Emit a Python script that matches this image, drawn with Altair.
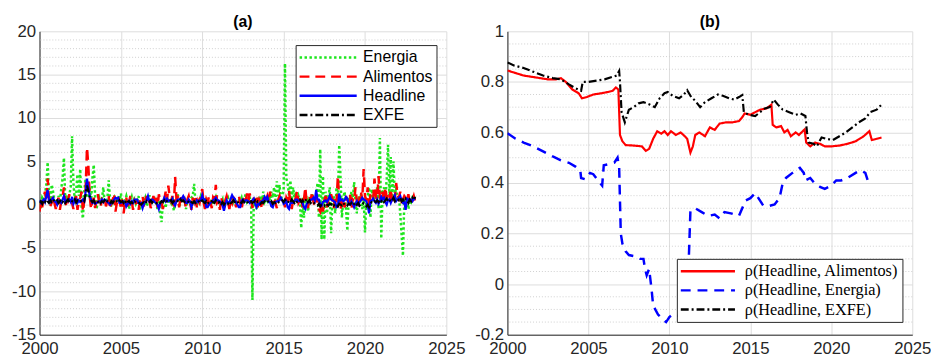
import altair as alt
import pandas as pd

# ---------------- Panel (a): monthly rates, Jan 2000 .. Feb 2023 ----------------
energia = [
    0.3, -0.4, 0.8, 0.5, 1.2, 2.3, 4.9, 1.0, 0.2, 2.3, 1.5, 0.4,      # 2000
    0.5, 0.3, 1.0, 0.2, 1.8, 3.0, 5.4, 0.5, 0.8, 0.3, 1.2, 2.0,       # 2001
    7.9, 2.5, 0.5, 1.5, 3.5, 1.0, 4.1, -0.5, -1.6, 1.5, 3.0, 0.8,     # 2002
    1.0, 2.0, 0.5, 3.0, 4.6, 1.0, -0.5, 0.3, 0.8, 0.2, 0.5, 2.0,      # 2003
    0.3, 0.5, 0.6, 2.8, 0.6, -0.2, 0.4, 0.8, 0.2, 0.5, 1.0, 0.3,      # 2004
    1.3, 0.2, -0.3, 0.5, 1.0, 0.3, -0.5, 0.4, 0.9, 0.2, 0.6, 0.1,     # 2005
    0.5, 1.0, -0.6, 0.3, 0.2, 0.4, 0.8, -0.2, 0.3, 1.1, 0.2, 0.5,     # 2006
    0.3, 0.6, 0.1, -0.5, 0.4, -1.0, -2.0, 0.3, 0.6, -0.4, 0.8, 0.2,   # 2007
    0.5, 0.2, 1.0, -0.7, 0.3, 0.6, 1.2, -0.3, 0.4, 0.8, 0.2, 0.5,     # 2008
    -0.5, 0.3, 0.2, 0.5, 0.8, 1.0, 2.4, 0.3, -0.2, 0.5, 0.4, 1.0,     # 2009
    0.6, 0.2, 0.8, -0.3, 0.4, 0.5, 0.3, 0.6, 0.1, 0.5, 0.9, 0.3,      # 2010
    0.5, 0.4, 0.2, 0.6, -0.4, 0.3, 0.5, 0.8, 0.2, 0.4, 1.0, 0.3,      # 2011
    0.6, 0.3, 0.2, 0.5, 0.4, 0.8, 0.1, 0.7, 1.2, 0.3, 0.5, 0.8,       # 2012
    0.5, -11.0, 0.5, 0.2, -0.5, 0.8, 0.3, 1.0, 0.5, 1.5, 0.3, 0.6,    # 2013
    0.4, 1.0, 0.5, 1.5, 0.8, 2.0, 0.5, 2.7, 1.0, 2.3, 0.5, 1.2,       # 2014
    1.5, 16.3, 3.0, 2.5, 1.0, 2.8, 0.5, 2.0, 0.8, 1.5, 0.3, 1.0,      # 2015
    0.5, -2.7, 0.8, -1.5, 0.5, 1.0, -0.8, 0.6, 0.4, 1.2, 0.3, 0.8,    # 2016
    1.0, 2.5, -1.5, 6.4, -4.0, 3.3, -4.0, 1.5, -1.0, 0.8, 2.0, -3.3,  # 2017
    0.5, 1.0, -1.0, 2.0, 0.5, 6.9, 3.0, -1.5, 0.8, 1.5, -0.5, -3.0,   # 2018
    0.8, 0.3, 1.5, 0.5, 2.6, 0.3, -1.0, 1.0, 0.5, 1.2, -0.5, 0.8,     # 2019
    -3.2, 0.5, 1.0, 2.0, -1.5, 1.8, 0.5, 1.0, 0.8, 2.0, -0.5, 7.7,    # 2020
    -3.9, 1.5, 2.0, 0.5, 3.0, 6.9, 1.0, 5.5, 0.5, 5.0, 1.0, 2.0,      # 2021
    0.5, 1.0, -1.0, -3.5, -5.9, 0.5, 0.2, 0.8, -0.5, 0.5, 0.3, 0.8,   # 2022
    0.5, 1.2,                                                          # 2023
]

alimentos = [
    -0.8, 0.5, -0.3, 0.8, 1.5, 0.4, 3.0, 0.6, -0.2, 0.3, 1.0, 0.2,    # 2000
    -0.5, 0.3, 0.8, -0.6, 0.4, 1.0, 2.0, 0.3, -0.3, 0.5, 1.2, 0.6,    # 2001
    0.2, -0.5, 0.4, 1.0, -0.6, 0.3, 0.8, 1.5, -0.8, 0.5, 1.8, 6.6,    # 2002
    4.5, 1.0, -0.5, 0.3, 0.8, -0.4, 0.5, 1.2, 0.2, -0.3, 0.6, 0.4,    # 2003
    0.8, -0.2, 0.5, 1.0, -0.5, 0.3, 0.6, 1.3, -0.8, 0.2, 0.9, 0.4,    # 2004
    -0.3, 0.6, -1.0, 0.2, 0.8, -0.5, 0.3, 1.0, 0.4, -0.6, 0.5, 0.2,   # 2005
    0.4, -0.6, 0.3, 0.8, 1.0, -0.2, 0.5, 1.0, 0.2, 0.6, -0.4, 0.3,    # 2006
    1.0, 0.3, 0.8, -0.3, 1.2, 0.5, 0.3, -0.5, 0.6, 1.5, 0.4, 2.2,     # 2007
    0.8, 0.4, 1.0, -0.2, 3.2, 0.6, 0.8, -0.3, 1.0, 0.3, 1.2, 0.5,     # 2008
    -0.4, 0.6, 1.0, 0.2, -0.6, 0.8, 0.3, 1.0, -0.3, 0.5, 0.2, 1.2,    # 2009
    1.8, 0.3, -0.5, 0.6, 0.2, 1.0, 0.4, -0.4, 0.8, 0.5, 2.3, 0.2,     # 2010
    0.4, -0.6, 0.8, 0.2, -0.4, 0.5, 1.0, 0.3, -0.5, 0.6, 0.2, 0.9,    # 2011
    0.3, -0.3, 0.6, 1.0, 0.2, -0.6, 0.5, 0.8, 0.3, 1.3, 0.4, 1.3,     # 2012
    0.5, -0.4, 0.8, 0.2, 1.0, -0.3, 0.6, 0.3, -0.5, 0.8, 0.2, 0.5,    # 2013
    1.0, 0.3, 1.5, -0.2, 0.5, 0.8, 0.2, -0.4, 0.6, 1.0, 0.3, 0.5,     # 2014
    0.6, -0.3, 0.8, 0.4, 1.6, 0.2, -0.5, 0.6, 0.3, 0.9, 1.6, 0.2,     # 2015
    0.5, 0.9, -0.3, 0.6, 2.0, 0.2, -0.4, 1.0, 0.5, 1.5, 0.3, -0.2,    # 2016
    0.8, 0.4, -0.5, -0.8, 0.2, -0.8, 0.5, 1.0, -0.3, 0.6, 0.4, 1.2,   # 2017
    0.6, -0.4, 0.9, 0.3, 3.3, 0.5, -0.6, 0.8, 0.2, -0.3, 1.0, 0.5,    # 2018
    0.3, 1.2, -0.5, 0.6, 0.4, 2.0, 0.3, -0.4, 0.8, 1.5, 0.5, 4.1,     # 2019
    1.0, 0.5, 2.0, -0.5, 1.2, 0.8, 0.6, 3.0, 1.0, 0.6, 3.3, 0.8,      # 2020
    0.6, 1.5, 0.3, 2.0, 0.8, 1.2, 0.5, 1.8, 0.4, 1.0, 0.6, 2.5,       # 2021
    1.2, 0.8, 1.5, 0.4, 0.6, 1.0, 0.8, 0.5, 1.2, 0.3, 0.6, 0.5,       # 2022
    1.0, 0.4,                                                          # 2023
]

headline = [
    0.5, 0.2, 0.4, 0.6, 0.3, 1.0, 1.7, 0.5, 0.3, 0.6, 0.8, 0.4,       # 2000
    0.3, 0.0, 0.5, 0.4, 0.2, 0.6, 1.0, 0.3, 0.5, 0.4, 0.6, 0.3,       # 2001
    0.9, 0.1, 0.4, 0.6, 0.2, 0.5, 0.3, 0.4, 0.6, 0.4, 1.5, 3.0,       # 2002
    2.0, 1.0, 0.6, 0.2, 0.3, 0.1, 0.2, 0.3, 0.4, 0.4, 0.6, 0.3,       # 2003
    0.6, 0.5, 0.3, 0.2, 0.0, 0.2, 0.3, 0.6, 0.8, 0.7, 0.8, 0.2,       # 2004
    0.2, 0.3, 0.4, 0.3, -0.2, 0.1, 0.4, 0.1, 0.4, 0.2, 0.6, 0.6,      # 2005
    0.6, 0.2, 0.1, 0.2, -0.4, 0.1, 0.3, 0.5, 1.0, 0.4, 0.5, 0.6,      # 2006
    0.5, 0.3, 0.2, 0.0, -0.5, 0.1, 0.4, 0.4, 0.8, 0.4, 0.7, 0.4,      # 2007
    0.5, 0.4, 0.7, 0.2, -0.1, 0.4, 0.6, 0.6, 0.7, 0.7, 1.0, 0.7,      # 2008
    0.2, 0.2, 0.6, 0.4, -0.3, 0.2, 0.3, 0.2, 0.5, 0.3, 0.5, 0.5,      # 2009
    1.1, 0.6, 0.6, -0.3, -0.3, 0.0, 0.2, 0.3, 0.5, 0.6, 0.8, 0.5,     # 2010
    0.5, 0.4, 0.2, -0.1, -0.7, 0.0, 0.5, 0.2, 0.3, 0.7, 1.1, 0.8,     # 2011
    0.7, 0.2, 0.0, -0.3, -0.3, 0.5, 0.6, 0.3, 0.5, 0.5, 0.4, 0.2,     # 2012
    0.4, 0.5, 0.7, 0.1, -0.3, 0.1, 0.0, 0.3, 0.4, 0.5, 0.9, 0.6,      # 2013
    0.9, 0.3, 0.3, -0.2, -0.3, 0.2, 0.3, 0.4, 0.4, 0.5, 0.8, 0.5,     # 2014
    0.1, 0.2, 0.4, -0.3, -0.5, 0.2, 0.2, 0.2, 0.4, 0.6, 0.6, 0.4,     # 2015
    0.4, 0.4, 0.2, -0.3, -0.5, 0.1, 0.3, 0.3, 0.6, 0.6, 0.8, 0.5,     # 2016
    1.7, 0.6, 0.6, 0.1, -0.1, 0.3, 0.4, 0.5, 0.3, 0.6, 1.0, 0.6,      # 2017
    0.5, 0.4, 0.3, -0.3, -0.2, 1.3, 0.5, 0.6, 0.4, 0.5, 0.9, 0.7,     # 2018
    0.1, 0.0, 0.4, 0.1, -0.3, 0.1, 0.4, 0.0, 0.3, 0.5, 0.8, 0.6,      # 2019
    0.5, 0.4, -0.1, -1.0, 0.4, 0.5, 0.7, 0.4, 0.2, 0.6, 0.1, 0.4,     # 2020
    0.9, 0.6, 0.8, 0.3, 0.0, 0.5, 0.6, 0.2, 0.6, 0.8, 1.1, 0.4,       # 2021
    0.6, 0.8, 1.0, 0.5, 0.2, 0.3, -0.6, 0.7, 0.6, 0.5, 0.6, 0.4,      # 2022
    0.7, 0.6,                                                          # 2023
]

exfe = [
    0.2, 0.4, 0.1, 0.5, 0.3, 0.6, 0.4, 0.2, 0.5, 0.3, 0.6, 0.4,       # 2000
    0.3, 0.5, 0.2, 0.4, 0.6, 0.3, 0.5, 0.2, 0.4, 0.6, 0.3, 0.5,       # 2001
    0.4, 0.3, 0.6, 0.2, 0.5, 0.4, 0.3, 0.5, 0.6, 0.4, 1.2, 2.2,       # 2002
    1.6, 0.9, 0.5, 0.3, 0.5, 0.2, 0.4, 0.3, 0.5, 0.2, 0.4, 0.3,       # 2003
    0.5, 0.2, 0.4, 0.3, 0.1, 0.4, 0.2, 0.5, 0.3, 0.4, 0.2, 0.5,       # 2004
    0.3, 0.4, 0.2, 0.5, 0.1, 0.3, 0.4, 0.2, 0.3, 0.1, 0.4, 0.3,       # 2005
    0.2, 0.3, 0.1, 0.0, 0.2, 0.3, 0.1, 0.4, 0.2, 0.3, 0.5, 0.2,       # 2006
    0.4, 0.3, 0.2, 0.1, 0.3, 0.2, 0.4, 0.3, 0.5, 0.2, 0.4, 0.3,       # 2007
    0.3, 0.5, 0.2, 0.4, 0.3, 0.5, 0.4, 0.3, 0.6, 0.4, 0.5, 0.3,       # 2008
    0.2, 0.4, 0.3, 0.1, 0.3, 0.2, 0.4, 0.2, 0.3, 0.5, 0.2, 0.4,       # 2009
    0.5, 0.3, 0.2, 0.4, 0.1, 0.3, 0.2, 0.4, 0.3, 0.2, 0.5, 0.3,       # 2010
    0.2, 0.4, 0.1, 0.3, 0.0, 0.2, 0.3, 0.1, 0.4, 0.2, 0.3, 0.5,       # 2011
    0.3, 0.2, 0.4, 0.1, 0.3, 0.2, 0.5, 0.3, 0.2, 0.4, 0.1, 0.3,       # 2012
    0.4, 0.2, 0.3, 0.5, 0.2, 0.4, 0.3, 0.1, 0.3, 0.2, 0.4, 0.3,       # 2013
    0.5, 0.3, 0.2, 0.4, 0.1, 0.3, 0.2, 0.4, 0.3, 0.2, 0.4, 0.5,       # 2014
    0.3, 0.6, 0.4, 0.2, 0.5, 0.3, 0.6, 0.4, 0.2, 0.5, 0.3, 0.4,       # 2015
    0.6, 0.3, 0.5, 0.2, 0.4, 0.7, 0.3, 0.5, 0.2, 0.4, 0.3, 0.1,       # 2016
    0.0, -0.1, 0.1, -0.2, 0.0, 0.1, -0.1, 0.2, 0.0, -0.1, 0.1, 0.0,   # 2017
    0.2, -0.1, 0.1, 0.0, -0.2, 0.1, 0.0, -0.1, 0.2, 0.0, 0.1, -0.1,   # 2018
    0.1, 0.0, 0.2, -0.1, 0.1, 0.3, 0.0, 0.2, -0.1, 0.1, 0.0, 0.2,     # 2019
    0.1, -0.2, 0.0, -0.3, 0.1, 0.3, 0.2, 0.4, 0.3, 0.5, 0.3, 0.6,     # 2020
    0.4, 0.6, 0.3, 0.5, 0.7, 0.4, 0.6, 0.3, 0.5, 0.8, 0.4, 0.6,       # 2021
    0.7, 0.5, 0.8, 0.4, 0.6, 0.3, 0.7, 0.5, 0.2, 0.6, 0.4, 0.8,       # 2022
    0.5, 0.9,                                                          # 2023
]

# ---------------- Panel (b): rolling correlations ----------------
rho_alim_t = [2000.0, 2000.5, 2001.0, 2001.5, 2002.0, 2002.5, 2003.0, 2003.3, 2003.6, 2004.0,
              2004.4, 2004.6, 2004.9, 2005.3, 2005.8, 2006.2, 2006.5, 2006.7, 2006.85, 2006.95,
              2007.1, 2007.3, 2007.8, 2008.3, 2008.55, 2008.75, 2009.0, 2009.25, 2009.5, 2009.7,
              2009.9, 2010.1, 2010.4, 2010.7, 2010.95, 2011.1, 2011.3, 2011.45, 2011.6, 2011.85,
              2012.2, 2012.5, 2012.8, 2013.1, 2013.5, 2013.9, 2014.3, 2014.5, 2014.65, 2015.0,
              2015.3, 2015.6, 2016.0, 2016.3, 2016.38, 2016.6, 2016.9, 2017.1, 2017.3, 2017.5,
              2017.8, 2018.0, 2018.35, 2018.45, 2018.7, 2019.0, 2019.3, 2019.6, 2020.0, 2020.5,
              2021.0, 2021.5, 2022.0, 2022.35, 2022.5, 2022.8, 2023.1]
rho_alim_v = [0.845, 0.835, 0.825, 0.82, 0.815, 0.81, 0.81, 0.815, 0.8, 0.77,
              0.755, 0.735, 0.74, 0.75, 0.755, 0.76, 0.765, 0.778, 0.77, 0.59,
              0.565, 0.55, 0.548, 0.545, 0.527, 0.535, 0.575, 0.605, 0.595, 0.605,
              0.59, 0.605, 0.59, 0.6, 0.585, 0.575, 0.52, 0.545, 0.59, 0.6,
              0.585, 0.62, 0.61, 0.635, 0.64, 0.64, 0.645, 0.66, 0.675, 0.67,
              0.68, 0.69, 0.695, 0.71, 0.63, 0.62, 0.625, 0.6, 0.61, 0.585,
              0.6, 0.59, 0.612, 0.56, 0.545, 0.56, 0.555, 0.545, 0.545, 0.548,
              0.555, 0.565, 0.585, 0.605, 0.57, 0.575, 0.58]

rho_ener_t = [2000.0, 2000.5, 2001.0, 2001.6, 2002.2, 2002.8, 2003.3, 2003.8, 2004.2, 2004.5,
              2004.55, 2004.8, 2005.1, 2005.3, 2005.6, 2005.85, 2005.95, 2006.3, 2006.6, 2006.8,
              2006.9, 2006.95, 2007.0, 2007.1, 2007.3, 2007.5, 2007.9, 2008.2, 2008.4, 2008.5,
              2008.6, 2008.75, 2008.9, 2009.0, 2009.3, 2009.6, 2009.8, 2010.0, 2010.2, 2010.5,
              2010.9, 2011.1, 2011.2, 2011.3, 2011.6, 2012.0, 2012.4, 2012.8, 2013.1, 2013.4,
              2013.8, 2014.3, 2014.5, 2014.7, 2015.0, 2015.3, 2015.6, 2015.8, 2016.2, 2016.5,
              2016.8, 2017.0, 2017.2, 2017.6, 2018.06, 2018.3, 2018.4, 2018.7, 2018.95, 2019.3,
              2019.6, 2020.0, 2020.3, 2020.6, 2021.0, 2021.5, 2021.8, 2022.1, 2022.25, 2022.6]
rho_ener_v = [0.597, 0.575, 0.56, 0.545, 0.525, 0.505, 0.49, 0.48, 0.465, 0.45,
              0.42, 0.415, 0.44, 0.435, 0.41, 0.39, 0.47, 0.475, 0.48, 0.5,
              0.46, 0.33, 0.2, 0.16, 0.13, 0.115, 0.11, 0.1, 0.1, 0.06,
              0.035, 0.06, -0.02, -0.085, -0.12, -0.14, -0.15, -0.13, -0.12, -0.125,
              -0.12, -0.05, 0.1, 0.29, 0.3, 0.285, 0.27, 0.275, 0.26, 0.285,
              0.28, 0.27, 0.3, 0.33, 0.34, 0.36, 0.33, 0.31, 0.31, 0.315,
              0.34, 0.4, 0.42, 0.44, 0.46, 0.44, 0.41, 0.42, 0.4, 0.385,
              0.377, 0.39, 0.41, 0.41, 0.42, 0.44, 0.45, 0.44, 0.41, 0.42]

rho_exfe_t = [2000.0, 2000.4, 2001.0, 2001.6, 2002.2, 2002.8, 2003.3, 2003.8, 2004.2, 2004.55,
              2004.65, 2005.0, 2005.5, 2006.0, 2006.5, 2006.75, 2006.9, 2006.95, 2007.05, 2007.25,
              2007.5, 2007.8, 2008.1, 2008.4, 2008.8, 2009.1, 2009.4, 2009.7, 2009.9, 2010.2,
              2010.6, 2010.9, 2011.1, 2011.35, 2011.6, 2011.9, 2012.2, 2012.6, 2013.0, 2013.3,
              2013.7, 2014.0, 2014.3, 2014.5, 2014.6, 2014.9, 2015.3, 2015.6, 2015.9, 2016.2,
              2016.45, 2016.7, 2017.0, 2017.4, 2017.8, 2018.1, 2018.4, 2018.5, 2018.6, 2018.9,
              2019.1, 2019.4, 2019.7, 2020.1, 2020.5, 2020.9, 2021.3, 2021.7, 2022.1, 2022.4,
              2022.8, 2023.1]
rho_exfe_v = [0.877, 0.865, 0.855, 0.84, 0.825, 0.815, 0.81, 0.79, 0.775, 0.765,
              0.8, 0.8, 0.805, 0.81, 0.82, 0.825, 0.843, 0.8, 0.68, 0.64,
              0.69, 0.7, 0.715, 0.72, 0.71, 0.7, 0.735, 0.755, 0.76, 0.745,
              0.735, 0.75, 0.767, 0.74, 0.725, 0.7, 0.72, 0.735, 0.75, 0.745,
              0.735, 0.73, 0.74, 0.748, 0.68, 0.67, 0.665, 0.68, 0.695, 0.7,
              0.73, 0.71, 0.69, 0.68, 0.67, 0.675, 0.665, 0.6, 0.56, 0.555,
              0.545, 0.58, 0.575, 0.57, 0.585, 0.6, 0.62, 0.64, 0.655, 0.68,
              0.69, 0.71]

left_series = ["Energia", "Alimentos", "Headline", "EXFE"]
left_colors = ["#1ee61e", "#ff0000", "#0000ff", "#000000"]
left_dashes = [[2.5, 2.5], [10, 6], [1, 0], [8, 3, 2, 3]]
left_widths = [2.5, 2.5, 2.2, 2.2]

right_series = ["\u03c1(Headline, Alimentos)", "\u03c1(Headline, Energia)", "\u03c1(Headline, EXFE)"]
right_colors = ["#ff0000", "#0000ff", "#000000"]
right_dashes = [[1, 0], [10, 7], [8, 3, 2, 3]]
right_widths = [2.2, 2.5, 2.2]

left_yticks = [-15, -10, -5, 0, 5, 10, 15, 20]
right_yticks = [-0.2, 0, 0.2, 0.4, 0.6, 0.8, 1]
xticks = [2000, 2005, 2010, 2015, 2020, 2025]
left_minor = [v for v in range(-15, 21) if v % 5 != 0]
right_minor = [-0.15, -0.1, -0.05, 0.05, 0.1, 0.15, 0.25, 0.3, 0.35, 0.45, 0.5, 0.55,
               0.65, 0.7, 0.75, 0.85, 0.9, 0.95]

# ---------------- tables ----------------
rows = []
for name, vals in zip(left_series, [energia, alimentos, headline, exfe]):
    for i, v in enumerate(vals):
        rows.append({"t": 2000 + i / 12.0, "value": v, "series": name})
left_df = pd.DataFrame(rows)

rows = []
for name, ts, vs in zip(right_series, [rho_alim_t, rho_ener_t, rho_exfe_t],
                        [rho_alim_v, rho_ener_v, rho_exfe_v]):
    for t, v in zip(ts, vs):
        rows.append({"t": t, "value": v, "series": name})
right_df = pd.DataFrame(rows)

FONT = "Liberation Sans"
H = 308
LONG_STROKE = "M-4,0H4"


def panel(df, series, colors, dashes, widths, minor, yticks, ydom, title, legend, width):
    xenc = alt.X("t:Q", scale=alt.Scale(domain=[2000, 2025], nice=False, zero=False),
                 axis=alt.Axis(values=xticks, labelExpr="'' + datum.value", title=None,
                               grid=True, labelPadding=6, labelFlush=False))
    yscale = alt.Scale(domain=ydom, nice=False, zero=False)
    yenc = alt.Y("value:Q", scale=yscale,
                 axis=alt.Axis(values=yticks, labelExpr="'' + datum.value", title=None,
                               grid=True, labelPadding=4))
    minor_df = pd.DataFrame({"value": minor})
    minor_layer = alt.Chart(minor_df).mark_rule(
        color="#cfcfcf", strokeDash=[1, 2], strokeWidth=1
    ).encode(y=yenc)
    cenc = alt.Color("series:N", scale=alt.Scale(domain=series, range=colors),
                     legend=legend, sort=series)
    denc = alt.StrokeDash("series:N", scale=alt.Scale(domain=series, range=dashes),
                          legend=legend, sort=series)
    layers = [minor_layer]
    for s, w in zip(series, widths):
        layers.append(
            alt.Chart(df[df["series"] == s]).mark_line(strokeWidth=w, clip=True)
            .encode(x=xenc, y=yenc, color=cenc, strokeDash=denc, order="t:Q")
        )
    return alt.layer(*layers).properties(
        width=width, height=H,
        title=alt.TitleParams(title, fontSize=16, fontWeight="bold", font=FONT,
                              color="black", offset=-8, frame="group"),
    )


leg_a = alt.Legend(title=None, orient="none", legendX=260, legendY=14, direction="vertical",
                   symbolType=LONG_STROKE, symbolSize=210, symbolStrokeWidth=2.5,
                   symbolOffset=20.5, labelOffset=27,
                   labelFont=FONT, labelFontSize=16, labelColor="black",
                   fillColor="white", strokeColor="#262626", padding=4, rowPadding=2.5,
                   cornerRadius=0, labelLimit=400)
leg_b = alt.Legend(title=None, orient="none", legendX=172, legendY=231, direction="vertical",
                   symbolType=LONG_STROKE, symbolSize=189, symbolStrokeWidth=2.5,
                   symbolOffset=19, labelOffset=29,
                   labelFont="Liberation Serif", labelFontSize=16.5, labelColor="black",
                   fillColor="white", strokeColor="#262626", padding=4, rowPadding=2.5,
                   cornerRadius=0, labelLimit=400)

left = panel(left_df, left_series, left_colors, left_dashes, left_widths, left_minor,
             left_yticks, [-15, 20], "(a)", leg_a, 413)
right = panel(right_df, right_series, right_colors, right_dashes, right_widths, right_minor,
              right_yticks, [-0.2, 1], "(b)", leg_b, 411)

chart = alt.hconcat(left, right, spacing=9).resolve_scale(
    color="independent", strokeDash="independent", x="independent", y="independent"
).resolve_legend(color="independent", strokeDash="independent").properties(
    padding={"left": 3, "top": 4, "right": 0, "bottom": 0}
).configure_view(stroke=None).configure_axis(
    labelFont=FONT, labelFontSize=17, labelColor="#262626", domainColor="#262626",
    domainWidth=1, gridColor="#dcdcdc", gridWidth=1, ticks=False
)

chart.save("out.html", embed_options={"renderer": "svg", "actions": False})
